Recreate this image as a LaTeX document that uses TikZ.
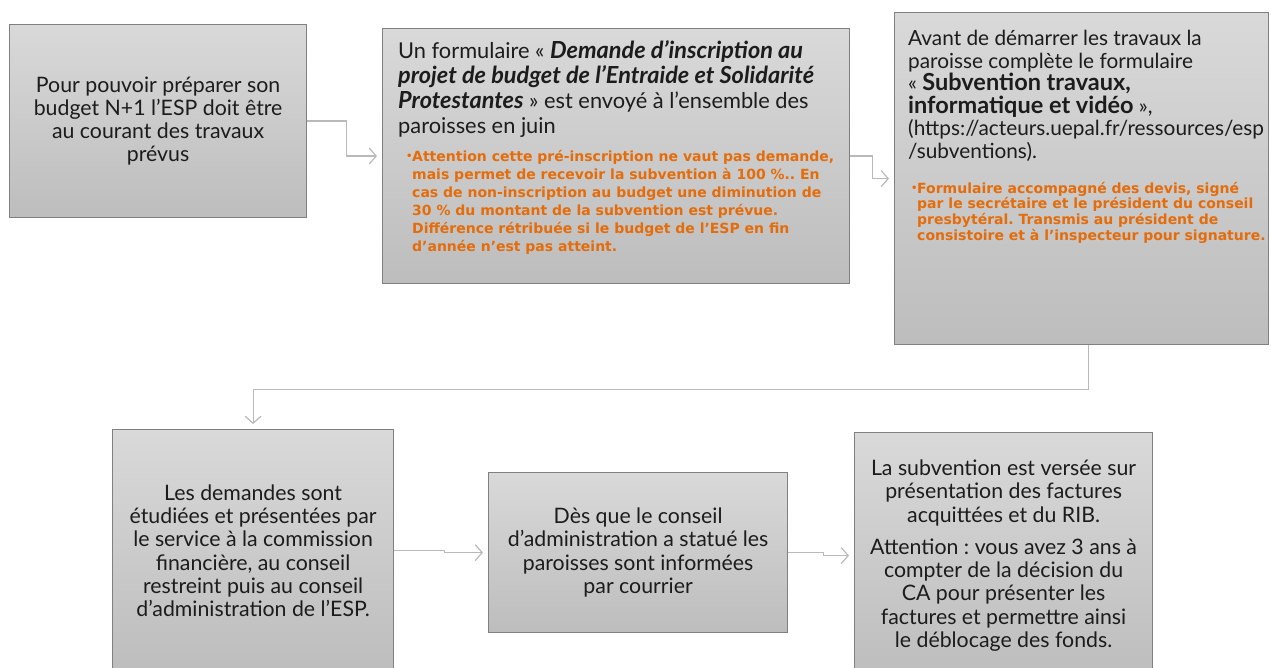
\documentclass[tikz,border=0pt]{standalone}
\usepackage{fontspec}
\setmainfont{Lato}
\newfontfamily\notefamily{DejaVu Sans}
\usetikzlibrary{positioning,arrows.meta}
\definecolor{boxtop}{RGB}{217,217,217}
\definecolor{boxbot}{RGB}{189,189,189}
\definecolor{boxline}{RGB}{128,128,128}
\definecolor{linkgray}{RGB}{185,185,185}
\definecolor{noteorange}{RGB}{228,108,10}
\definecolor{inkdark}{RGB}{28,28,28}
\frenchspacing
\newcommand{\boxfont}{\fontsize{21.3}{23.3}\selectfont}
\newcommand{\bigbf}[1]{{\fontsize{23.5}{23.5}\selectfont\bfseries #1}}
\newcommand{\espnote}[1]{\makebox[6pt][l]{\raisebox{1.5pt}{\fontsize{10}{10}\selectfont\textbullet}}\begin{tabular}[t]{@{}l@{}}#1\end{tabular}}
\tikzset{
  stepbox/.style args={#1,#2}{
  draw=boxline,
  line width=1.2pt,
  top color=boxtop,
  bottom color=boxbot,
  minimum width=#1pt,
  minimum height=#2pt,
  inner sep=0pt,
  text=inkdark,
  font=\boxfont,
  align=center,
  anchor=north west
  },
  boxtext/.style={text=inkdark,inner sep=0pt,align=left,anchor=north west},
  notetext/.style={text=noteorange,inner sep=0pt,align=left},
  link/.style={draw=linkgray,line width=1.2pt,-{Straight Barb[length=7pt,width=16pt]},shorten >=5pt}
}
\begin{document}
\begin{tikzpicture}[x=1pt,y=-1pt]
  \useasboundingbox (0,0) rectangle (1271,668);

  \node [stepbox={297,193}] (b1) at (9,24) {Pour pouvoir préparer son\\budget N+1 l’ESP doit être\\au courant des travaux\\prévus};
  \node [stepbox={467,255}] (b2) at (382,28) {};
  \node [stepbox={374,332}] (b3) at (894,12) {};

  \node [stepbox={281,242}] (b4) at (112,429) {Les demandes sont\\étudiées et présentées par\\le service à la commission\\financière, au conseil\\restreint puis au conseil\\d’administration de l’ESP.};
  \node [stepbox={299,160}] (b5) at (488,472) {Dès que le conseil\\d’administration a statué les\\paroisses sont informées\\par courrier};
  \node [stepbox={298,246}] (b6) at (854,432) {La subvention est versée sur\\présentation des factures\\acquittées et du RIB.\\[9pt]Attention : vous avez 3 ans à\\compter de la décision du\\CA pour présenter les\\factures et permettre ainsi\\le déblocage des fonds.};

  % texts of the two upper boxes
  \node [boxtext,font=\fontsize{21.8}{25}\selectfont] (t2) at ([shift={(16,12)}]b2.north west) {Un formulaire «~\bigbf{\itshape Demande d’inscription au}\\\bigbf{\itshape projet de budget de l’Entraide et Solidarité}\\\bigbf{\itshape Protestantes}~» est envoyé à l’ensemble des\\paroisses en juin};
  \node [notetext,font=\notefamily\fontsize{14}{18}\selectfont\bfseries,below=11pt of t2.south west,anchor=north west,xshift=8pt] (n2) {\espnote{Attention cette pré-inscription ne vaut pas demande,\\mais permet de recevoir la subvention à 100~\%.. En\\cas de non-inscription au budget une diminution de\\30~\% du montant de la subvention est prévue.\\Différence rétribuée si le budget de l’ESP en fin\\d’année n’est pas atteint.}};

  \node [boxtext,font=\fontsize{20.8}{22.6}\selectfont] (t3) at ([shift={(14,18)}]b3.north west) {Avant de démarrer les travaux la\\paroisse complète le formulaire\\«~\bigbf{Subvention travaux,}\\\bigbf{informatique et vidéo}~»,\\(https://acteurs.uepal.fr/ressources/esp\\/subventions).};
  \node [notetext,font=\notefamily\fontsize{14}{15}\selectfont\bfseries,below=20pt of t3.south west,anchor=north west,xshift=3pt] (n3) {\espnote{Formulaire accompagné des devis, signé\\par le secrétaire et le président du conseil\\presbytéral. Transmis au président de\\consistoire et à l’inspecteur pour signature.}};

  % connectors
  \draw [link] (b1.east) -- ++(39,0) |- (b2.west);
  \draw [link] (b2.east) -- ++(22,0) |- (b3.west);
  \draw [link] ([xshift=7pt]b3.south) -- ++(0,44) -| (b4.north);
  \draw [link] (b4.east) -- ++(50,0) |- (b5.west);
  \draw [link] (b5.east) -- ++(35,0) |- (b6.west);
\end{tikzpicture}
\end{document}
